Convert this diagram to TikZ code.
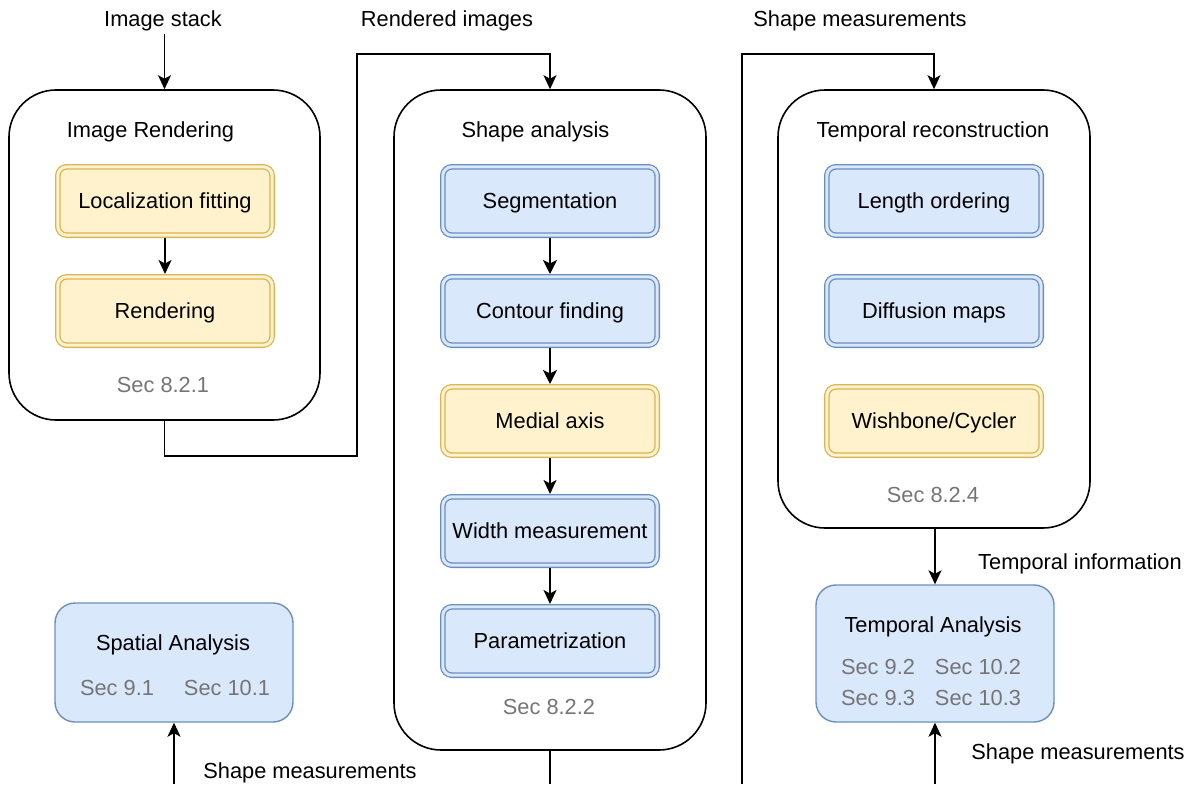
\documentclass[tikz,border=0pt]{standalone}
\usepackage{fontspec}
\setmainfont{Liberation Sans}
\usetikzlibrary{arrows.meta}
\definecolor{yfill}{HTML}{FFF2CC}
\definecolor{ydraw}{HTML}{D6B656}
\definecolor{bfill}{HTML}{DAE8FC}
\definecolor{bdraw}{HTML}{6C8EBF}
\definecolor{secgray}{HTML}{757575}
\begin{document}
\begin{tikzpicture}[x=1pt,y=-1pt,
  every node/.style={font=\fontsize{21.8}{26}\selectfont, inner sep=0pt,
    text height=15.3pt, text depth=0pt},
  container/.style={draw=black, line width=1.6pt, rounded corners=47pt},
  stepbox/.style={line width=1.3pt, double distance=3pt, rounded corners=9pt,
    minimum width=214.4pt, minimum height=68.4pt, outer sep=2.8pt},
  yellowbox/.style={stepbox, draw=ydraw, double=yfill, fill=yfill},
  bluebox/.style={stepbox, draw=bdraw, double=bfill, fill=bfill},
  result/.style={draw=bdraw, fill=bfill, line width=1.4pt, rounded corners=20pt},
  sec/.style={text=secgray},
  flow/.style={line width=1.6pt, -{Stealth[length=14pt,width=13pt,inset=3.5pt]}},
  thickflow/.style={line width=2.4pt, -{Stealth[length=14pt,width=14pt,inset=3.5pt]}},
  wire/.style={line width=1.6pt},
]
\useasboundingbox (0,0) rectangle (1196,784);

% --- Stage 1: image rendering ---
\node[container, minimum width=311pt, minimum height=330pt] (c1) at (164.5,255) {};
\node (t1) at (150.5,130) {Image Rendering};
\node[yellowbox] (loc) at (165,201) {Localization fitting};
\node[yellowbox] (ren) at (165,311) {Rendering};
\node[sec] (s1) at (163,385) {Sec 8.2.1};
\draw[flow] (loc) -- (ren);

% --- Stage 2: shape analysis ---
\node[container, minimum width=312pt, minimum height=660pt] (c2) at (550,420) {};
\node (t2) at (535.5,130) {Shape analysis};
\node[bluebox] (seg) at (550,201) {Segmentation};
\node[bluebox] (con) at (550,311) {Contour finding};
\node[yellowbox] (med) at (550,421) {Medial axis};
\node[bluebox] (wid) at (550,531) {Width measurement};
\node[bluebox] (par) at (550,641) {Parametrization};
\node[sec] (s2) at (549,707) {Sec 8.2.2};
\draw[thickflow] (seg) -- (con);
\draw[thickflow] (con) -- (med);
\draw[flow] (med) -- (wid);
\draw[flow] (wid) -- (par);

% --- Stage 3: temporal reconstruction ---
\node[container, minimum width=312pt, minimum height=438pt] (c3) at (934,309) {};
\node (t3) at (933,130) {Temporal reconstruction};
\node[bluebox] (len) at (934,201) {Length ordering};
\node[bluebox] (dif) at (934,311) {Diffusion maps};
\node[yellowbox] (wis) at (934,421) {Wishbone/Cycler};
\node[sec] (s3) at (933,495) {Sec 8.2.4};

% --- Analyses ---
\node[result, minimum width=238pt, minimum height=137pt] (ta) at (935,653.5) {};
\node (tat) at (933,625) {Temporal Analysis};
\node[sec] (ta1) at (878,667) {Sec 9.2};
\node[sec] (ta2) at (978,667) {Sec 10.2};
\node[sec] (ta3) at (878,698) {Sec 9.3};
\node[sec] (ta4) at (978,698) {Sec 10.3};

\node[result, minimum width=238pt, minimum height=119pt] (sa) at (174,662.5) {};
\node (sat) at (173,643) {Spatial Analysis};
\node[sec] (sa1) at (117,688) {Sec 9.1};
\node[sec] (sa2) at (227,688) {Sec 10.1};

% --- Data-flow labels ---
\node (l1) at (163,19) {Image stack};
\node (l2) at (447,19) {Rendered images};
\node (l3) at (860,19) {Shape measurements};
\node (l4) at (1080,562) {Temporal information};
\node (l5) at (1078,752) {Shape measurements};
\node (l6) at (310,771) {Shape measurements};

% --- Connector waypoints ---
\coordinate (in1) at (164.5,34);
\coordinate (r1) at (357,456);
\coordinate (r2) at (357,54);
\coordinate (d2) at (550,784);
\coordinate (m1) at (742,784);
\coordinate (m2) at (742,54);
\coordinate (m3) at (935,784);
\coordinate (m4) at (174,784);

% --- Connectors ---
\draw[flow] (in1) -- (c1.north);
\draw[flow] (c1.south) |- (r1) -- (r2) -| (c2.north);
\draw[wire] (c2.south) -- (d2);
\draw[flow] (m1) -- (m2) -| (c3.north);
\draw[flow] (c3.south -| ta.north) -- (ta.north);
\draw[flow] (m3) -- (ta.south);
\draw[flow] (m4) -- (sa.south);
\end{tikzpicture}
\end{document}
